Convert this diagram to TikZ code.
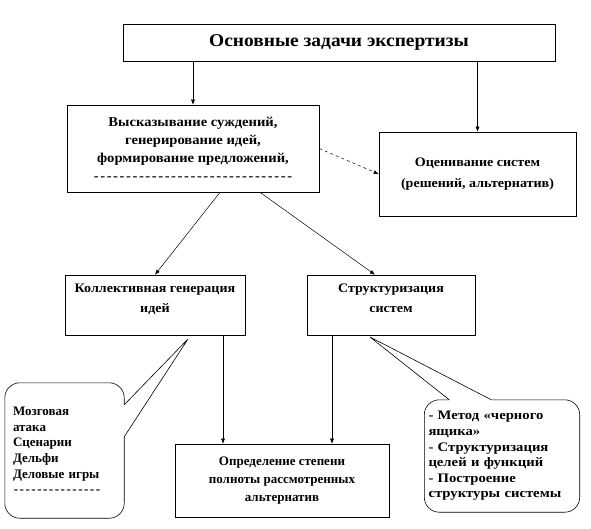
\documentclass[tikz,border=0pt]{standalone}
\usepackage{fontspec}
\setmainfont{Liberation Serif}
\newfontfamily\wideserif[FakeStretch=1.08]{Liberation Serif}
\newfontfamily\widerserif[FakeStretch=1.13]{Liberation Serif}
\usetikzlibrary{arrows.meta,calc}

\newcommand{\dashrow}[1]{\hbox to #1{\xleaders\hbox{\kern.7pt-\kern.7pt}\hfill}}

\begin{document}
\begin{tikzpicture}[x=1pt, y=-1pt,
	box/.style={draw, line width=0.6pt, align=center, inner sep=2pt,
		font=\wideserif\bfseries\fontsize{13.5}{18}\selectfont},
	arr/.style={-{Latex[length=5pt,width=4pt]}, line width=0.5pt},
	note/.style={align=left, text width=#1, inner ysep=0pt, inner xsep=8pt,
		font=\bfseries\fontsize{13}{15.6}\selectfont}]
	\useasboundingbox (0,0) rectangle (591,528);
	% верхний уровень
	\node[box, minimum width=432, minimum height=37,
		font=\wideserif\bfseries\fontsize{18}{20}\selectfont] (main) at (339,42.5) {Основные задачи экспертизы};
	% второй уровень
	\node[box, minimum width=252, minimum height=87] (ideas) at (193,148.5)
		{Высказывание суждений,\\ генерирование идей,\\ формирование предложений,\\ \dashrow{200pt}};
	\node[box, minimum width=197, minimum height=84,
		font=\wideserif\bfseries\fontsize{13}{21}\selectfont] (eval) at (477.5,174) {Оценивание систем\\ (решений, альтернатив)};
	% третий уровень
	\node[box, minimum width=180, minimum height=60, text depth=13pt,
		font=\wideserif\bfseries\fontsize{13}{20}\selectfont] (coll) at (155,305) {Коллективная генерация\\ идей};
	\node[box, minimum width=168, minimum height=60, text depth=13pt,
		font=\wideserif\bfseries\fontsize{13}{20}\selectfont] (struct) at (391,305) {Структуризация\\ систем};
	% нижний уровень
	\node[box, minimum width=214, minimum height=73,
		font=\bfseries\fontsize{13}{18}\selectfont] (compl) at (282,480.5)
		{Определение степени\\ полноты рассмотренных\\ альтернатив};
	% связи
	\draw[arr] (main.south -| ideas.north) -- (ideas.north);
	\draw[arr] (main.south -| eval.north) -- (eval.north);
	\draw[arr, dashed] (ideas.east) -- (eval.west);
	\draw[arr] ([xshift=27pt]ideas.south) -- (coll.north);
	\draw[arr] ([xshift=67pt]ideas.south) -- ([xshift=-16pt]struct.north);
	\draw[arr] ([xshift=68pt]coll.south) -- ([xshift=68pt]coll.south |- compl.north);
	\draw[arr] ([xshift=-59pt]struct.south) -- ([xshift=-59pt]struct.south |- compl.north);
	% выноски
	\node[note=103pt, minimum height=135] (brain) at (64.5,450.5)
		{Мозговая\\ атака\\ Сценарии\\ Дельфи\\ Деловые игры\\ \dashrow{88pt}};
	\coordinate (braintip) at (188,339);
	\draw[line width=0.6pt, rounded corners=15pt] ([yshift=-22pt]brain.north east) -- (brain.north east)
		-- (brain.north west) -- (brain.south west) -- (brain.south east) -- ([yshift=-54pt]brain.north east);
	\draw[line width=0.6pt] ([yshift=-22pt]brain.north east) -- (braintip) -- ([yshift=-54pt]brain.north east);
	\node[note=147pt, inner xsep=4pt, minimum height=112,
		font=\widerserif\bfseries\fontsize{13}{15.6}\selectfont] (meth) at (502,456)
		{- Метод «черного\\ ящика»\\ - Структуризация\\ целей и функций\\ - Построение\\ структуры системы};
	\coordinate (methtip) at (370,337);
	\draw[line width=0.6pt, rounded corners=15pt] ([xshift=25pt]meth.north west) -- (meth.north west)
		-- (meth.south west) -- (meth.south east) -- (meth.north east) -- ([xshift=67pt]meth.north west);
	\draw[line width=0.6pt] ([xshift=25pt]meth.north west) -- (methtip) -- ([xshift=67pt]meth.north west);
\end{tikzpicture}
\end{document}
